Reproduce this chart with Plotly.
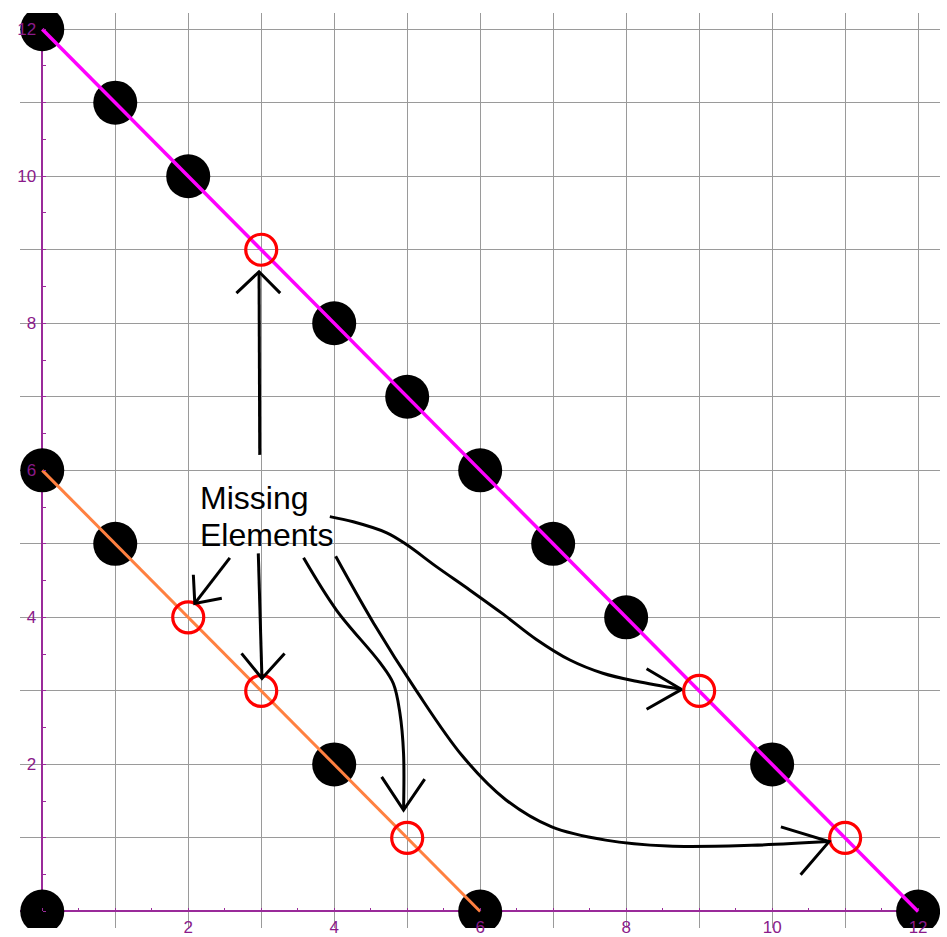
import plotly.graph_objects as go

# ---------------- data ----------------
# upper sequence (magenta line from (0,12) to (12,0))
upper_line_x = [0, 12]
upper_line_y = [12, 0]
upper_present_x = [0, 1, 2, 4, 5, 6, 7, 8, 10, 12]
upper_present_y = [12, 11, 10, 8, 7, 6, 5, 4, 2, 0]
upper_missing_x = [3, 9, 11]
upper_missing_y = [9, 3, 1]

# lower sequence (orange line from (0,6) to (6,0))
lower_line_x = [0, 6]
lower_line_y = [6, 0]
lower_present_x = [0, 1, 4, 6]
lower_present_y = [6, 5, 2, 0]
lower_missing_x = [2, 3, 5]
lower_missing_y = [4, 3, 1]

# origin point
origin_x = [0]
origin_y = [0]

# tick labels
tick_vals = list(range(1, 13))
tick_text = ["", "2", "", "4", "", "6", "", "8", "", "10", "", "12"]

# annotation text
label_lines = ["Missing", "Elements"]
label_x = 2.13
label_y = [5.63, 5.12]

# hand-drawn arrows (shaft points, head points) in data units
arrow_shafts = [
    ([2.98, 2.97], [6.21, 8.70]),
    ([2.57, 2.09], [4.81, 4.19]),
    ([2.96, 3.01], [4.87, 3.17]),
    ([3.94, 4.26, 4.72, 4.99, 5.40, 5.86, 6.32, 6.77, 7.23, 7.68, 8.14, 8.76],
     [5.37, 5.30, 5.15, 4.99, 4.69, 4.37, 4.04, 3.70, 3.42, 3.24, 3.13, 3.02]),
    ([3.58, 4.03, 4.63, 4.81, 4.90, 4.95, 4.95],
     [4.81, 4.10, 3.38, 3.10, 2.70, 2.15, 1.38]),
    ([4.02, 4.54, 5.12, 5.76, 6.35, 6.98, 7.72, 8.57, 9.72, 10.78],
     [4.83, 3.92, 3.01, 2.11, 1.52, 1.15, 0.97, 0.89, 0.90, 0.95]),
]
arrow_heads = [
    ([2.66, 2.97, 3.26], [8.41, 8.70, 8.41]),
    ([2.07, 2.09, 2.46], [4.58, 4.19, 4.26]),
    ([2.73, 3.01, 3.32], [3.51, 3.17, 3.51]),
    ([8.28, 8.76, 8.28], [3.30, 3.02, 2.75]),
    ([4.65, 4.95, 5.24], [1.83, 1.38, 1.80]),
    ([10.12, 10.78, 10.39], [1.15, 0.95, 0.50]),
]

# ---------------- figure ----------------
X_RANGE = [-0.305, 12.30]
Y_RANGE = [-0.225, 12.22]
AXIS_PURPLE = "#9a2a9a"
LABEL_PURPLE = "#8a1a8a"
GRID = "#9a9a9a"

fig = go.Figure()

black_x = upper_present_x + lower_present_x + origin_x
black_y = upper_present_y + lower_present_y + origin_y
fig.add_trace(go.Scatter(x=black_x, y=black_y, mode="markers",
                         marker=dict(color="black", size=44, line=dict(width=0)),
                         hoverinfo="skip"))

fig.add_trace(go.Scatter(x=lower_line_x, y=lower_line_y, mode="lines",
                         line=dict(color="#ff8040", width=3), hoverinfo="skip"))
fig.add_trace(go.Scatter(x=upper_line_x, y=upper_line_y, mode="lines",
                         line=dict(color="#ff00ff", width=3.5), hoverinfo="skip"))

fig.add_trace(go.Scatter(x=upper_missing_x + lower_missing_x,
                         y=upper_missing_y + lower_missing_y, mode="markers",
                         marker=dict(symbol="circle-open", size=31,
                                     color="#ff0000", line=dict(width=3.2, color="#ff0000")),
                         hoverinfo="skip"))

for sx, sy in arrow_shafts:
    fig.add_trace(go.Scatter(x=sx, y=sy, mode="lines",
                             line=dict(color="black", width=3, shape="spline", smoothing=1),
                             hoverinfo="skip"))
for hx, hy in arrow_heads:
    fig.add_trace(go.Scatter(x=hx, y=hy, mode="lines",
                             line=dict(color="black", width=3), hoverinfo="skip"))

for txt, ty in zip(label_lines, label_y):
    fig.add_annotation(x=label_x, y=ty, xref="x", yref="y", text=txt,
                       showarrow=False, xanchor="left", yanchor="middle",
                       font=dict(family="Liberation Sans, Arial, sans-serif",
                                 size=32, color="black"))

x_pos = (0 - X_RANGE[0]) / (X_RANGE[1] - X_RANGE[0])
y_pos = (0 - Y_RANGE[0]) / (Y_RANGE[1] - Y_RANGE[0])

common = dict(
    tickmode="array", tickvals=tick_vals, ticktext=tick_text,
    showgrid=True, gridcolor=GRID, gridwidth=1.3,
    zeroline=True, zerolinecolor=AXIS_PURPLE, zerolinewidth=1.5,
    showline=False, ticks="inside", ticklen=3, tickcolor=AXIS_PURPLE, tickwidth=1,
    minor=dict(dtick=0.5, tick0=0, ticks="inside", ticklen=3,
               tickcolor=AXIS_PURPLE, tickwidth=1, showgrid=False),
    tickfont=dict(family="Liberation Sans, Arial, sans-serif", size=17, color=LABEL_PURPLE),
    anchor="free", fixedrange=True, automargin=False,
)

fig.update_layout(
    width=947, height=937,
    margin=dict(l=20, r=7, t=13, b=9, autoexpand=False),
    paper_bgcolor="white", plot_bgcolor="white",
    showlegend=False,
    xaxis=dict(range=X_RANGE, position=y_pos, ticklabelstandoff=4, **common),
    yaxis=dict(range=Y_RANGE, position=x_pos, ticklabelstandoff=6, **common),
)

# remove the browser's default 8px body margin so the figure fills the window exactly
fig.write_html("out.html", config={"displayModeBar": False},
               post_script="document.body.style.margin='0px';")
